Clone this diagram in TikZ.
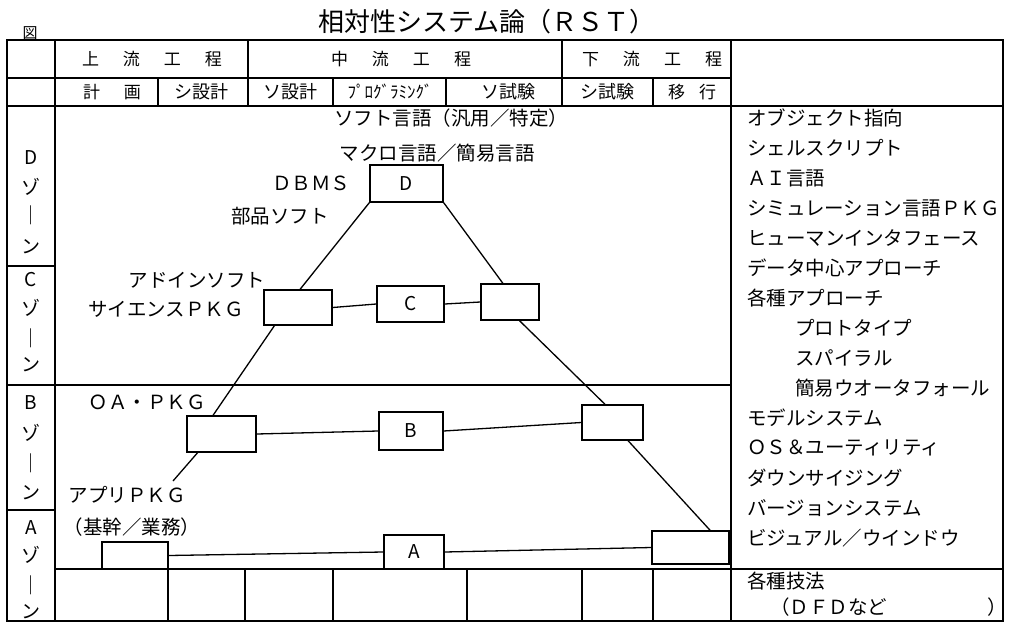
\documentclass[tikz,border=0pt]{standalone}
\usepackage{fontspec}
\setmainfont{Noto Sans CJK JP}
\usetikzlibrary{calc}
\newcommand\gp{\hspace{24pt}}
\begin{document}
\begin{tikzpicture}[x=1pt,y=-1pt,
  tbl/.style={line width=1.5pt},
  ln/.style={line width=1.3pt},
  bx/.style={draw, line width=1.4pt, inner sep=0pt, font=\fontsize{19}{20}\selectfont},
  txt/.style={inner sep=0pt, font=\fontsize{19.5}{22}\selectfont},
  hd/.style={inner sep=0pt, font=\fontsize{17}{20}\selectfont},
  zn/.style={inner sep=0pt, font=\fontsize{19}{20}\selectfont}]
\useasboundingbox (0,0) rectangle (1011,626);
% title
\node[inner sep=0pt, font=\fontsize{26}{28}\selectfont] (title) at (487,22) {相対性システム論（ＲＳＴ）};
\node[inner sep=0pt, font=\fontsize{15}{16}\selectfont] (fig) at (30,33) {図};
% table frame
\draw[tbl] (7,40) rectangle (1003,621);
\draw[tbl] (7,78) -- (731,78);
\draw[tbl] (7,106) -- (1003,106);
\draw[tbl] (55,40) -- (55,621);
\draw[tbl] (731,40) -- (731,621);
\foreach \x in {248,562} \draw[tbl] (\x,40) -- (\x,78);
\foreach \x in {158,248,333,446,562,653} \draw[tbl] (\x,78) -- (\x,106);
\draw[tbl] (7,266) -- (55,266);
\draw[tbl] (7,385) -- (731,385);
\draw[tbl] (7,510) -- (55,510);
\draw[tbl] (55,569) -- (1003,569);
\foreach \x in {168,245,333,467,582,653} \draw[tbl] (\x,569) -- (\x,621);
% header texts
\node[hd] (h1) at (152,59) {上\gp 流\gp 工\gp 程};
\node[hd] (h2) at (401,59) {中\gp 流\gp 工\gp 程};
\node[hd] (h3) at (652,59) {下\gp 流\gp 工\gp 程};
\node[hd] (r1) at (112,92) {計\gp 画};
\node[hd, font=\fontsize{18}{20}\selectfont] (r2) at (201,92) {シ設計};
\node[hd, font=\fontsize{18}{20}\selectfont] (r3) at (290,92) {ソ設計};
\node[hd] (r4) at (390,92) {ﾌﾟﾛｸﾞﾗﾐﾝｸﾞ};
\node[hd, font=\fontsize{18}{20}\selectfont] (r5) at (508,92) {ソ試験};
\node[hd, font=\fontsize{18}{20}\selectfont] (r6) at (607,92) {シ試験};
\node[hd] (r7) at (692,92) {移\hspace{14pt}行};
% zone labels
\foreach \t/\y [count=\i] in {D/158,ゾ/187,｜/215,ン/247,C/280,ゾ/308,｜/338,ン/365,B/403,ゾ/433,｜/463,ン/493,A/528,ゾ/555,｜/585,ン/612}
  \node[zn] (z\i) at (31,\y) {\t};
% right column
\foreach \t/\k/\x [count=\i] in {オブジェクト指向/0/747,シェルスクリプト/1/747,ＡＩ言語/2/747,シミュレーション言語ＰＫＧ/3/747,ヒューマンインタフェース/4/747,データ中心アプローチ/5/747,各種アプローチ/6/747,プロトタイプ/7/795,スパイラル/8/795,簡易ウオータフォール/9/795,モデルシステム/10/747,ＯＳ＆ユーティリティ/11/747,ダウンサイジング/12/747,バージョンシステム/13/747,ビジュアル／ウインドウ/14/747}
  \node[txt, anchor=west] (rc\i) at (\x,118+30*\k) {\t};
\node[txt, anchor=west] (tech) at (747,581) {各種技法};
\node[txt, anchor=west] (dfd) at (770,607) {（ＤＦＤなど\hspace{100pt}）};
% diagram labels
\node[txt] (l1) at (451,118) {ソフト言語（汎用／特定）};
\node[txt] (l2) at (437,153) {マクロ言語／簡易言語};
\node[txt] (l3) at (311,183) {ＤＢＭＳ};
\node[txt] (l4) at (280,216) {部品ソフト};
\node[txt] (l5) at (197,280) {アドインソフト};
\node[txt] (l6) at (166,309) {サイエンスＰＫＧ};
\node[txt] (l7) at (147,402) {ＯＡ・ＰＫＧ};
\node[txt] (l8) at (127,495) {アプリＰＫＧ};
\node[txt] (l9) at (132,527) {（基幹／業務）};
% boxes
\node[bx, minimum width=73pt, minimum height=37pt] (D) at (406.5,183.5) {D};
\node[bx, minimum width=68pt, minimum height=35pt] (CL) at (298,307.5) {};
\node[bx, minimum width=67pt, minimum height=36pt] (C) at (410.5,304) {C};
\node[bx, minimum width=58pt, minimum height=36pt] (CR) at (510,302) {};
\node[bx, minimum width=69pt, minimum height=36pt] (BL) at (221.5,434) {};
\node[bx, minimum width=64pt, minimum height=38pt] (B) at (411,431) {B};
\node[bx, minimum width=61pt, minimum height=35pt] (BR) at (612.5,422.5) {};
\node[bx, minimum width=66pt, minimum height=27pt] (AL) at (135,555.5) {};
\node[bx, minimum width=60pt, minimum height=34pt] (A) at (414,552) {A};
\node[bx, minimum width=77pt, minimum height=33pt] (AR) at (690.5,547.5) {};
\coordinate (tail) at (173,481);
% connectors
\draw[ln] (D.south west) -- ($(CL.north west)!0.53!(CL.north east)$);
\draw[ln] (D.south east) -- ($(CR.north west)!0.38!(CR.north east)$);
\draw[ln] ($(CL.south west)!0.16!(CL.south east)$) -- ($(BL.north west)!0.38!(BL.north east)$);
\draw[ln] ($(BL.south west)!0.16!(BL.south east)$) -- (tail);
\draw[ln] ($(CR.south west)!0.66!(CR.south east)$) -- ($(BR.north west)!0.38!(BR.north east)$);
\draw[ln] ($(BR.south west)!0.75!(BR.south east)$) -- ($(AR.north west)!0.75!(AR.north east)$);
\draw[ln] (CL.east) -- (C.west);
\draw[ln] (C.east) -- (CR.west);
\draw[ln] (BL.east) -- (B.west);
\draw[ln] (B.east) -- (BR.west);
\draw[ln] (AL.east) -- (A.west);
\draw[ln] (A.east) -- (AR.west);
\end{tikzpicture}
\end{document}
